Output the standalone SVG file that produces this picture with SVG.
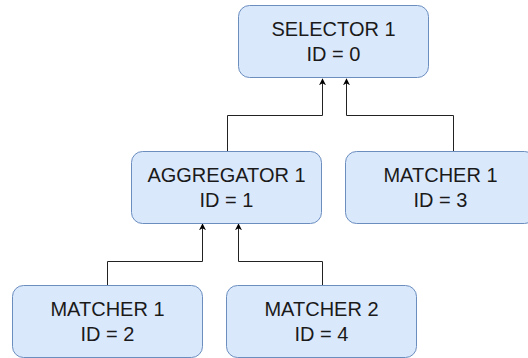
<svg xmlns="http://www.w3.org/2000/svg" width="528" height="358" viewBox="0 0 528 358">
<defs>
<style>
.box{fill:#dae8fc;stroke:#6c8ebf;stroke-width:1}
.t{font-family:"Liberation Sans",Arial,sans-serif;font-size:20px;fill:#1a1a1a;text-anchor:middle}
.c{fill:none;stroke:#222;stroke-width:1}
</style>
<marker id="ah" viewBox="0 0 10 10" refX="9" refY="5" markerWidth="7" markerHeight="7" orient="auto" markerUnits="userSpaceOnUse">
<path d="M0,0 L10,5 L0,10 L3,5 Z" fill="#000"/>
</marker>
</defs>
<g id="connectors">
<path class="c" d="M227.5,151.5 V115.5 H322.5 V79" marker-end="url(#ah)"/>
<path class="c" d="M453.5,151.5 V115.5 H346.5 V79" marker-end="url(#ah)"/>
<path class="c" d="M107.5,285.5 V261.5 H202.5 V224" marker-end="url(#ah)"/>
<path class="c" d="M322.5,285.5 V261.5 H238.5 V224" marker-end="url(#ah)"/>
</g>
<g id="selector1">
<rect class="box" x="238.5" y="5.5" width="190" height="72" rx="11"/>
<text class="t" x="333.5" y="36">SELECTOR 1</text>
<text class="t" x="333.5" y="61">ID = 0</text>
</g>
<g id="aggregator1">
<rect class="box" x="131.5" y="151.5" width="190" height="72" rx="11"/>
<text class="t" x="226.5" y="182">AGGREGATOR 1</text>
<text class="t" x="226.5" y="207">ID = 1</text>
</g>
<g id="matcher1-id3">
<rect class="box" x="345.5" y="151.5" width="190" height="72" rx="11"/>
<text class="t" x="440.5" y="182">MATCHER 1</text>
<text class="t" x="440.5" y="207">ID = 3</text>
</g>
<g id="matcher1-id2">
<rect class="box" x="12.5" y="285.5" width="190" height="72" rx="11"/>
<text class="t" x="107.5" y="316">MATCHER 1</text>
<text class="t" x="107.5" y="341">ID = 2</text>
</g>
<g id="matcher2-id4">
<rect class="box" x="226.5" y="285.5" width="190" height="72" rx="11"/>
<text class="t" x="321.5" y="316">MATCHER 2</text>
<text class="t" x="321.5" y="341">ID = 4</text>
</g>
</svg>
